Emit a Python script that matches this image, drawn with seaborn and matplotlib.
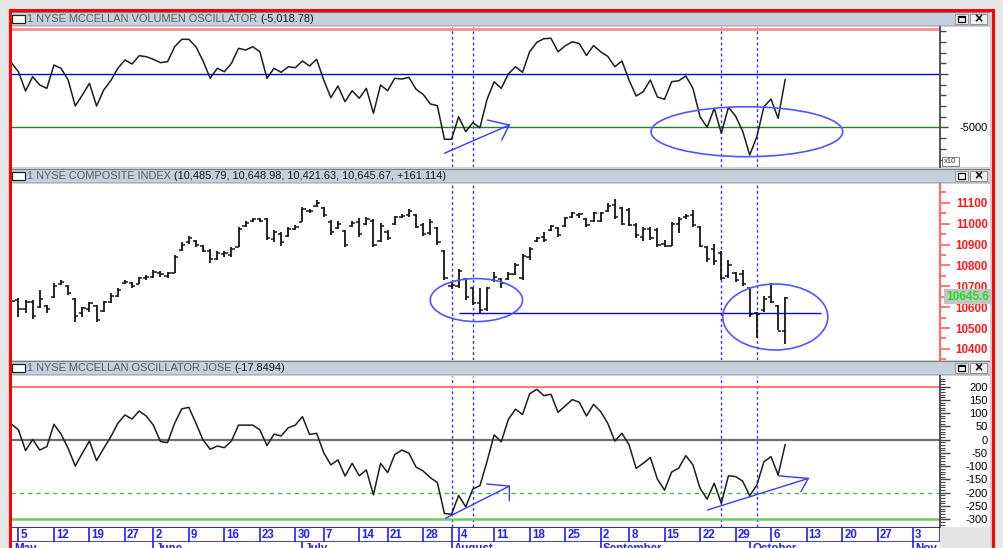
import numpy as np
import pandas as pd
import matplotlib
matplotlib.use('Agg')
import matplotlib.pyplot as plt
from matplotlib.patches import Rectangle, Ellipse
import seaborn as sns

sns.set_style('white')
plt.rcParams['font.family'] = ['Liberation Sans', 'DejaVu Sans']

W, H = 1004, 548

# ---------------- data (one value per bar slot, slot 0 = 2 May) ----------------
vol_osc = [1060, 210, -1590, -250, -1030, -1340, 840, 530, -560, -2990,
           -1960, -870, -2990, -1500, -630, 530, 1310, 935, 1710, 1620,
           1370, 1060, 1150, 2550, 3240, 3240, 2550, 1220, -400, 530,
           215, 1000, 2400, 2240, 2550, 2080, -400, 530, 160, 680,
           590, 1215, 750, 1370, -560, -2215, -1120, -2590, -1560, -2270,
           -1340, -3670, -1030, -1560, -400, -470, -310, -1430, -1900, -2800,
           -2960, -6100, -6100, -3990, -5390, -4550, -5020, -2370, -720, -1340,
           0, 680, 160, 2080, 2950, 3300, 3340, 2080, 2630, 3020,
           2840, 1730, 2660, 2080, 1650, 680, 1215, -560, -2060, -1650,
           -560, -2150, -2365, -720, -630, -190, -1340, -3990, -4980, -3210,
           -5540, -3110, -3930, -5330, -7570, -5860, -3060, -2340, -4140, -502]

mcc_osc = [59, 37, -41, 1, -39, -26, 58, 21, -33, -99,
           -51, -5, -79, -33, 11, 62, 93, 78, 108, 89,
           55, -7, -11, 62, 116, 122, 62, -1, -36, -24,
           -30, -5, 55, 55, 55, 37, -22, 21, 14, 45,
           55, 87, 20, 24, -49, -95, -76, -137, -89, -136,
           -114, -208, -89, -124, -56, -39, -51, -103, -118, -143,
           -161, -278, -281, -210, -253, -186, -173, -82, 18, -8,
           76, 115, 95, 173, 190, 166, 171, 103, 127, 151,
           141, 89, 133, 106, 62, -5, 24, -19, -108, -89,
           -67, -149, -190, -122, -107, -60, -95, -183, -224, -164,
           -240, -136, -139, -156, -211, -171, -83, -64, -133, -17.85]

nya_high = [10682, 10642, 10634, 10634, 10682, 10610, 10714, 10730, 10706, 10642,
            10602, 10626, 10610, 10629, 10666, 10690, 10730, 10722, 10746, 10754,
            10778, 10773, 10770, 10850, 10910, 10942, 10921, 10897, 10881, 10869,
            10869, 10890, 10985, 11012, 11028, 11025, 11025, 10969, 10961, 10985,
            10993, 11081, 11070, 11113, 11081, 11017, 11012, 10969, 11012, 11025,
            11033, 11022, 11001, 10969, 11038, 11044, 11068, 11044, 11001, 11022,
            10985, 10874, 10722, 10783, 10738, 10693, 10693, 10698, 10767, 10738,
            10767, 10810, 10853, 10890, 10937, 10961, 10996, 10985, 11033, 11057,
            11049, 11025, 11057, 11057, 11097, 11118, 11081, 11073, 11001, 10985,
            10985, 10977, 10921, 11006, 11033, 11044, 11065, 10988, 10893, 10901,
            10869, 10826, 10770, 10778, 10693, 10578, 10653, 10714, 10610, 10649]
nya_low = [10626, 10554, 10570, 10543, 10594, 10570, 10642, 10706, 10658, 10530,
           10554, 10578, 10527, 10578, 10618, 10650, 10709, 10693, 10709, 10730,
           10738, 10746, 10741, 10762, 10869, 10905, 10890, 10865, 10814, 10826,
           10842, 10842, 10890, 10985, 11009, 11009, 10921, 10910, 10894, 10937,
           10969, 11009, 11049, 11081, 11033, 10945, 10974, 10890, 10985, 10937,
           10993, 10890, 10910, 10921, 10993, 11025, 11033, 10977, 10942, 10945,
           10897, 10730, 10687, 10690, 10634, 10610, 10570, 10582, 10722, 10693,
           10730, 10754, 10730, 10826, 10910, 10910, 10964, 10937, 10985, 11025,
           11028, 10985, 11009, 11009, 11057, 11022, 10996, 10990, 10933, 10917,
           10921, 10890, 10890, 10894, 10953, 11022, 10985, 10890, 10818, 10802,
           10730, 10738, 10722, 10703, 10555, 10451, 10578, 10618, 10491, 10422]
nya_open = [10675, 10635, 10590, 10625, 10600, 10605, 10650, 10710, 10700, 10640,
            10570, 10590, 10605, 10580, 10625, 10655, 10715, 10718, 10712, 10738,
            10745, 10765, 10750, 10765, 10875, 10910, 10915, 10895, 10870, 10830,
            10855, 10850, 10890, 10990, 11015, 11020, 11020, 10925, 10950, 10940,
            10975, 11010, 11060, 11085, 11075, 11010, 10980, 10965, 10990, 11010,
            11000, 11015, 10915, 10960, 11000, 11030, 11040, 11040, 10995, 10955,
            10980, 10870, 10700, 10700, 10735, 10690, 10620, 10590, 10730, 10735,
            10735, 10760, 10740, 10840, 10915, 10935, 10970, 10980, 10990, 11030,
            11040, 11020, 11015, 11015, 11060, 11090, 11075, 11065, 10995, 10935,
            10975, 10970, 10905, 10895, 11000, 11030, 11040, 10985, 10890, 10880,
            10860, 10750, 10765, 10760, 10690, 10570, 10585, 10650, 10605, 10486]
nya_close = [10630, 10590, 10625, 10560, 10640, 10590, 10700, 10722, 10670, 10560,
             10595, 10620, 10540, 10625, 10655, 10680, 10722, 10700, 10740, 10745,
             10770, 10760, 10765, 10840, 10900, 10930, 10900, 10870, 10830, 10860,
             10860, 10880, 10975, 11005, 11020, 11015, 10930, 10960, 10910, 10975,
             10985, 11070, 11060, 11100, 11040, 10960, 11000, 10900, 11005, 10950,
             11020, 10900, 10990, 10930, 11030, 11035, 11060, 10985, 10950, 11010,
             10910, 10740, 10705, 10775, 10650, 10620, 10585, 10690, 10745, 10715,
             10760, 10800, 10845, 10880, 10930, 10920, 10990, 10945, 11025, 11050,
             11045, 10995, 11050, 11050, 11085, 11030, 11000, 10995, 10945, 10975,
             10930, 10900, 10895, 11000, 11020, 11035, 10995, 10895, 10830, 10820,
             10740, 10800, 10730, 10710, 10565, 10565, 10640, 10625, 10485, 10646]

week_labels = ['5', '12', '19', '27', '2', '9', '16', '23', '30', '7', '14', '21', '28',
               '4', '11', '18', '25', '2', '8', '15', '22', '29', '6', '13', '20', '27', '3']
week_slots = [1, 6, 11, 16, 20, 25, 30, 35, 40, 44, 49, 53, 58,
              63, 68, 73, 78, 83, 87, 92, 97, 102, 107, 112, 117, 122, 127]
month_labels = ['May', 'June', 'July', 'August', 'September', 'October', 'Nov']
month_slots = [0, 20, 41, 62, 83, 104, 127]
marker_slots = [62, 65, 100, 105]

titles = [("1 NYSE MCCELLAN VOLUMEN OSCILLATOR ", "(-5,018.78)"),
          ("1 NYSE COMPOSITE INDEX ", "(10,485.79, 10,648.98, 10,421.63, 10,645.67, +161.114)"),
          ("1 NYSE MCCELLAN OSCILLATOR JOSE ", "(-17.8494)")]

# ---------------- figure scaffolding ----------------
fig = plt.figure(figsize=(W / 100, H / 100), dpi=100, facecolor='#e8e8e8')


def fax(x0, y0, x1, y1):
    return [x0 / W, 1 - y1 / H, (x1 - x0) / W, (y1 - y0) / H]


def frect(x0, y0, x1, y1, **kw):
    kw.setdefault('zorder', -5)
    kw.setdefault('linewidth', 0)
    r = Rectangle((x0 / W, 1 - y1 / H), (x1 - x0) / W, (y1 - y0) / H,
                  transform=fig.transFigure, **kw)
    fig.patches.append(r)
    return r


frect(10, 10, 993, 560, facecolor='#cfcfcf', zorder=-10)
for (y0, y1) in [(27, 167), (184, 360), (376, 527)]:
    frect(11, y0, 990, y1, facecolor='white', zorder=-9)
frect(11, 527, 940, 560, facecolor='white', zorder=-9)
frect(940, 527, 990, 560, facecolor='#e4e4e4', zorder=-9)

BLUE = '#1f1fff'
bar_rows = [(12, 26), (169, 183), (361, 375)]
title_texts = []
for (y0, y1), (main, val) in zip(bar_rows, titles):
    frect(11, y0, 990, y1, facecolor='#c4d0dc', zorder=-8)
    frect(11, y0, 990, y0 + 1, facecolor='#7c7c7c', zorder=-7)
    frect(11, y1 - 1, 990, y1, facecolor='#a9b3bd', zorder=-7)
    frect(12, y0 + 2.5, 25, y0 + 10.5, facecolor='white', edgecolor='#202020',
          linewidth=0.9, zorder=-6)
    # window buttons
    frect(955, y0 + 1.5, 968, y1 - 2, facecolor='#efefef', edgecolor='#8a8a8a',
          linewidth=0.6, zorder=-6)
    frect(958, y0 + 4, 965, y1 - 4.5, facecolor='none', edgecolor='black',
          linewidth=0.9, zorder=-5)
    frect(958, y0 + 4, 965, y0 + 5.5, facecolor='black', zorder=-5)
    frect(970, y0 + 1.5, 987, y1 - 2, facecolor='#efefef', edgecolor='#8a8a8a',
          linewidth=0.6, zorder=-6)
    fig.text(978.5 / W, 1 - (y0 + y1 - 0.5) / 2 / H, '×', ha='center', va='center',
             fontsize=10, fontweight='bold', color='black')
    t = fig.text(27 / W, 1 - (y0 + y1) / 2 / H, main, ha='left', va='center',
                 fontsize=7.9, color='#5c5c5c')
    title_texts.append((t, val, (y0 + y1) / 2))

frect(10, 10, 993, 560, facecolor='none', edgecolor='#ff0000', linewidth=2.2, zorder=20)

XL = (-0.05, 130.8)
slots = np.arange(len(vol_osc))

ax1 = fig.add_axes(fax(11, 27, 940, 167))
ax2 = fig.add_axes(fax(11, 184, 940, 360))
ax3 = fig.add_axes(fax(11, 376, 940, 527))
axd = fig.add_axes(fax(11, 527, 940, 542))
axm = fig.add_axes(fax(11, 542, 940, 560))

for ax in (ax1, ax2, ax3):
    ax.set_xlim(*XL)
    ax.set_facecolor('white')
    for sp in ('left', 'top', 'bottom'):
        ax.spines[sp].set_visible(False)
    ax.spines['right'].set_visible(True)
    ax.xaxis.set_visible(False)
    ax.yaxis.tick_right()
    for s in marker_slots:
        ax.axvline(s, color='#3434ff', lw=1, ls=(0, (2, 2)), zorder=1)

# ---------------- panel 1: volume oscillator ----------------
df1 = pd.DataFrame({'slot': slots, 'value': vol_osc})
ax1.axhline(4230, color='#ff8c8c', lw=2, zorder=1)
ax1.axhline(0, color='#0000ee', lw=1, zorder=1)
ax1.axhline(-5000, color='#2b7a2b', lw=1, zorder=1)
sns.lineplot(data=df1, x='slot', y='value', ax=ax1, color='#1e1e1e', lw=1.1, zorder=3)
ax1.set_ylim(-8692, 4393)
ax1.set_yticks([0, -5000], ['', '-5000'], ha='right', fontsize=8, color='black')
ax1.set_yticks(np.arange(-8000, 4001, 1000), minor=True)
ax1.tick_params(axis='y', which='major', length=6, width=1, color='#454545', pad=28.5)
ax1.tick_params(axis='y', which='minor', length=4, width=1, color='#454545')
ax1.spines['right'].set_color('#454545')
ax1.spines['right'].set_linewidth(1.3)
ax1.add_patch(Ellipse((103.6, -5395), 27.0, 4670, fill=False, edgecolor='#5555ff', lw=1.2, zorder=4))
ax1.plot([60.99, 70.14], [-7411, -4766], color='#3a3aff', lw=1, zorder=4)
ax1.plot([67.04, 70.14, 69.07], [-4299, -4766, -6168], color='#3a3aff', lw=1, zorder=4)
ax1.set_xlabel('')
ax1.set_ylabel('')
frect(942, 157, 959, 166, facecolor='white', edgecolor='#6a6a6a', linewidth=0.6, zorder=5)
fig.text(950.5 / W, 1 - 161.5 / H, 'x10', ha='center', va='center', fontsize=5.5,
         color='#303030', zorder=6)

# ---------------- panel 2: NYSE composite OHLC ----------------
s_arr = np.array(slots, dtype=float)
ax2.vlines(s_arr, nya_low, nya_high, color='#151515', lw=1.3, zorder=3)
ax2.hlines(nya_open, s_arr - 0.45, s_arr, color='#151515', lw=1.1, zorder=3)
ax2.hlines(nya_close, s_arr, s_arr + 0.45, color='#151515', lw=1.1, zorder=3)
ax2.hlines(10571, 63, 114, color='#0000ff', lw=1, zorder=2)
ax2.add_patch(Ellipse((65.5, 10634), 13.0, 206, fill=False, edgecolor='#5555ff', lw=1.2, zorder=4))
ax2.add_patch(Ellipse((107.6, 10553), 14.8, 316, fill=False, edgecolor='#5555ff', lw=1.2, zorder=4))
ax2.set_ylim(10347, 11190)
maj2 = np.arange(10400, 11101, 100)
ax2.set_yticks(maj2, [str(v) for v in maj2], ha='right', fontsize=8.3,
               fontweight='bold', color='#ff1a1a')
ax2.set_yticks(np.arange(10350, 11151, 50), minor=True)
ax2.tick_params(axis='y', which='major', length=7, width=1.2, color='#ff6060', pad=27.5)
ax2.tick_params(axis='y', which='minor', length=4, width=1.2, color='#ff6060')
ax2.spines['right'].set_color('#ff6a6a')
ax2.spines['right'].set_linewidth(1.6)
frect(944, 289, 992, 304, facecolor='#c4c4c4', zorder=5)
fig.text(946 / W, 1 - 296.8 / H, '10645.6', ha='left', va='center', fontsize=8.6,
         fontweight='bold', color='#22e022', zorder=6)

# ---------------- panel 3: McClellan oscillator ----------------
df3 = pd.DataFrame({'slot': slots, 'value': mcc_osc})
ax3.axhline(200, color='#ff6a6a', lw=1.3, zorder=1)
ax3.axhline(0, color='#6e6e6e', lw=1.6, zorder=1)
ax3.axhline(-300, color='#72c672', lw=1.8, zorder=1)
ax3.axhline(-200, color='#4fae4f', lw=1, ls=(0, (3, 3)), zorder=1)
sns.lineplot(data=df3, x='slot', y='value', ax=ax3, color='#1e1e1e', lw=1.1, zorder=3)
ax3.set_ylim(-329, 240)
maj3 = np.arange(-300, 201, 50)
ax3.set_yticks(maj3, [str(v) for v in maj3], ha='right', fontsize=8, color='black')
ax3.set_yticks(np.arange(-320, 231, 10), minor=True)
ax3.tick_params(axis='y', which='major', length=7, width=1, color='#454545', pad=27.5)
ax3.tick_params(axis='y', which='minor', length=3.5, width=0.8, color='#454545')
ax3.spines['right'].set_color('#454545')
ax3.spines['right'].set_linewidth(1.3)
ax3.plot([61.18, 70.14], [-296, -175], color='#3a3aff', lw=1, zorder=4)
ax3.plot([66.96, 70.14, 70.14], [-167, -175, -230], color='#3a3aff', lw=1, zorder=4)
ax3.plot([98.03, 112.25], [-265, -146], color='#3a3aff', lw=1, zorder=4)
ax3.plot([108.0, 112.25, 111.2], [-136, -146, -196], color='#3a3aff', lw=1, zorder=4)
ax3.set_xlabel('')
ax3.set_ylabel('')

# ---------------- date rows ----------------
for ax in (axd, axm):
    ax.set_xlim(*XL)
    ax.set_ylim(0, 1)
    ax.set_axis_off()
axd.axhline(1, color=BLUE, lw=1.4)
axd.axhline(0, color=BLUE, lw=1.2)
axd.vlines([0.02, 130.75] + week_slots + [62], 0, 1, color=BLUE, lw=1.2)
for s, lbl in zip(week_slots, week_labels):
    axd.text(s + 0.3, 0.45, lbl, ha='left', va='center', fontsize=8.3,
             fontweight='bold', color=BLUE)
axm.vlines(month_slots, 0, 1, color=BLUE, lw=1.2)
for s, lbl in zip(month_slots, month_labels):
    axm.text(s + 0.35, 0.97, lbl, ha='left', va='top', fontsize=8.3,
             fontweight='bold', color=BLUE)

# ---------------- coloured value parts of titles ----------------
fig.canvas.draw()
rend = fig.canvas.get_renderer()
for t, val, yc in title_texts:
    bb = t.get_window_extent(renderer=rend)
    fig.text(bb.x1 / W, 1 - yc / H, val, ha='left', va='center', fontsize=7.9,
             color='#151515')

fig.savefig('out.png', dpi=100, facecolor=fig.get_facecolor())
